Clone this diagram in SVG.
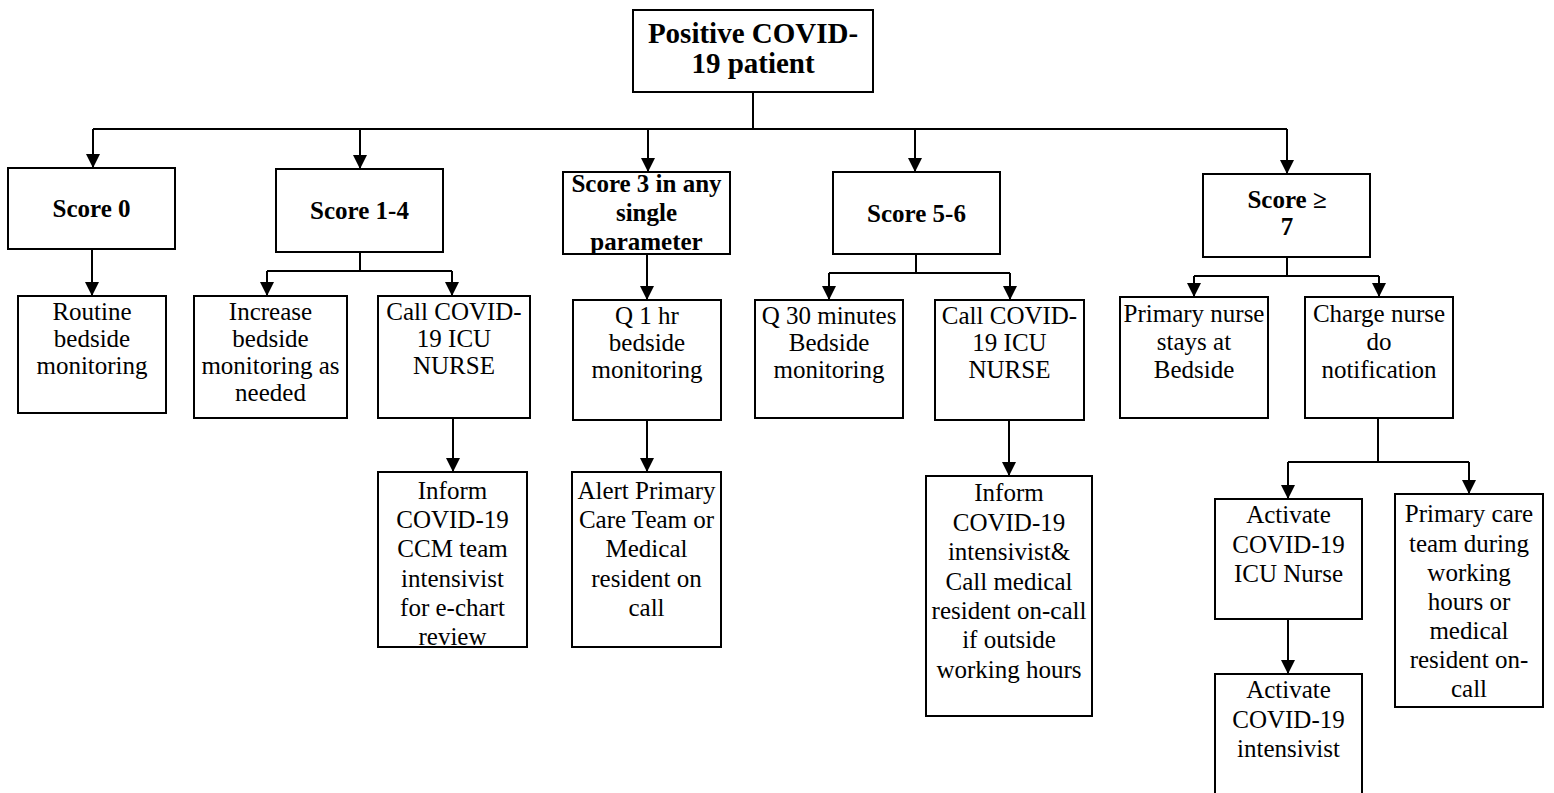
<svg xmlns="http://www.w3.org/2000/svg" width="1554" height="793" viewBox="0 0 1554 793">
<style>
.box{fill:#fff;stroke:#000;stroke-width:2}
.ln{fill:none;stroke:#000;stroke-width:2}
.arr{marker-end:url(#ah)}
text{font-family:'Liberation Serif','Times New Roman','DejaVu Serif',serif;font-size:25px;text-anchor:middle;fill:#000}
.b{font-weight:bold}
</style>
<defs>
<marker id="ah" markerUnits="userSpaceOnUse" markerWidth="14" markerHeight="14" viewBox="0 0 14 14" refX="14" refY="7" orient="auto">
<path d="M0,0 L14,7 L0,14 z" fill="#000"/>
</marker>
</defs>
<rect width="1554" height="793" fill="#fff"/>

<g id="connectors">
<path class="ln" d="M753,92 V129 M93,129 H1287"/>
<path class="ln arr" d="M93,129 V168"/>
<path class="ln arr" d="M360,129 V169"/>
<path class="ln arr" d="M648,129 V172"/>
<path class="ln arr" d="M915,129 V172"/>
<path class="ln arr" d="M1287,129 V174"/>
<path class="ln arr" d="M92,249 V296"/>
<path class="ln" d="M360,252 V271 M267,271 H452"/>
<path class="ln arr" d="M267,271 V296"/>
<path class="ln arr" d="M452,271 V296"/>
<path class="ln arr" d="M647,254 V300"/>
<path class="ln" d="M916,254 V273 M829,273 H1010"/>
<path class="ln arr" d="M829,273 V300"/>
<path class="ln arr" d="M1010,273 V300"/>
<path class="ln" d="M1287,257 V276 M1194,276 H1379"/>
<path class="ln arr" d="M1194,276 V297"/>
<path class="ln arr" d="M1379,276 V297"/>
<path class="ln arr" d="M453,418 V472"/>
<path class="ln arr" d="M647,420 V472"/>
<path class="ln arr" d="M1009,420 V476"/>
<path class="ln" d="M1378,418 V462 M1288,462 H1469"/>
<path class="ln arr" d="M1288,462 V499"/>
<path class="ln arr" d="M1469,462 V494"/>
<path class="ln arr" d="M1288,619 V674"/>
</g>

<g id="n-top">
<rect class="box" x="633" y="10" width="240" height="82"/>
<text class="b" style="font-size:29px"><tspan x="753" y="43">Positive COVID-</tspan><tspan x="753" y="73">19 patient</tspan></text>
</g>

<g id="n-score0">
<rect class="box" x="8" y="168" width="167" height="81"/>
<text class="b"><tspan x="91.5" y="217">Score 0</tspan></text>
</g>

<g id="n-score14">
<rect class="box" x="276" y="169" width="167" height="83"/>
<text class="b"><tspan x="359.5" y="219">Score 1-4</tspan></text>
</g>

<g id="n-score3">
<rect class="box" x="563" y="172" width="167" height="82"/>
<text class="b"><tspan x="646.5" y="192">Score 3 in any</tspan><tspan x="646.5" y="221">single</tspan><tspan x="646.5" y="250">parameter</tspan></text>
</g>

<g id="n-score56">
<rect class="box" x="833" y="172" width="167" height="82"/>
<text class="b"><tspan x="916.5" y="222">Score 5-6</tspan></text>
</g>

<g id="n-score7">
<rect class="box" x="1203" y="174" width="167" height="83"/>
<text class="b"><tspan x="1287" y="208">Score ≥</tspan><tspan x="1287" y="235">7</tspan></text>
</g>

<g id="n-routine">
<rect class="box" x="18" y="296" width="148" height="117"/>
<text><tspan x="92" y="320">Routine</tspan><tspan x="92" y="347">bedside</tspan><tspan x="92" y="374">monitoring</tspan></text>
</g>

<g id="n-increase">
<rect class="box" x="194" y="296" width="153" height="122"/>
<text><tspan x="270.5" y="320">Increase</tspan><tspan x="270.5" y="347">bedside</tspan><tspan x="270.5" y="374">monitoring as</tspan><tspan x="270.5" y="401">needed</tspan></text>
</g>

<g id="n-call14">
<rect class="box" x="378" y="296" width="152" height="122"/>
<text><tspan x="454" y="320">Call COVID-</tspan><tspan x="454" y="347">19 ICU</tspan><tspan x="454" y="374">NURSE</tspan></text>
</g>

<g id="n-q1hr">
<rect class="box" x="573" y="300" width="148" height="120"/>
<text><tspan x="647" y="324">Q 1 hr</tspan><tspan x="647" y="351">bedside</tspan><tspan x="647" y="378">monitoring</tspan></text>
</g>

<g id="n-q30">
<rect class="box" x="755" y="300" width="148" height="118"/>
<text><tspan x="829" y="324">Q 30 minutes</tspan><tspan x="829" y="351">Bedside</tspan><tspan x="829" y="378">monitoring</tspan></text>
</g>

<g id="n-call56">
<rect class="box" x="935" y="300" width="149" height="120"/>
<text><tspan x="1009.5" y="324">Call COVID-</tspan><tspan x="1009.5" y="351">19 ICU</tspan><tspan x="1009.5" y="378">NURSE</tspan></text>
</g>

<g id="n-primarynurse">
<rect class="box" x="1120" y="297" width="148" height="121"/>
<text><tspan x="1194" y="322">Primary nurse</tspan><tspan x="1194" y="350">stays at</tspan><tspan x="1194" y="378">Bedside</tspan></text>
</g>

<g id="n-charge">
<rect class="box" x="1305" y="297" width="148" height="121"/>
<text><tspan x="1379" y="322">Charge nurse</tspan><tspan x="1379" y="350">do</tspan><tspan x="1379" y="378">notification</tspan></text>
</g>

<g id="n-informccm">
<rect class="box" x="378" y="472" width="149" height="175"/>
<text><tspan x="452.5" y="499">Inform</tspan><tspan x="452.5" y="528">COVID-19</tspan><tspan x="452.5" y="557">CCM team</tspan><tspan x="452.5" y="587">intensivist</tspan><tspan x="452.5" y="616">for e-chart</tspan><tspan x="452.5" y="645">review</tspan></text>
<path class="ln" d="M378,647 H527"/>
</g>

<g id="n-alert">
<rect class="box" x="572" y="472" width="149" height="175"/>
<text><tspan x="646.5" y="499">Alert Primary</tspan><tspan x="646.5" y="528">Care Team or</tspan><tspan x="646.5" y="557">Medical</tspan><tspan x="646.5" y="587">resident on</tspan><tspan x="646.5" y="616">call</tspan></text>
</g>

<g id="n-inform56">
<rect class="box" x="926" y="476" width="166" height="240"/>
<text><tspan x="1009" y="501">Inform</tspan><tspan x="1009" y="531">COVID-19</tspan><tspan x="1009" y="560">intensivist&amp;</tspan><tspan x="1009" y="590">Call medical</tspan><tspan x="1009" y="619">resident on-call</tspan><tspan x="1009" y="648">if outside</tspan><tspan x="1009" y="678">working hours</tspan></text>
</g>

<g id="n-activateicu">
<rect class="box" x="1215" y="499" width="147" height="120"/>
<text><tspan x="1288.5" y="523">Activate</tspan><tspan x="1288.5" y="553">COVID-19</tspan><tspan x="1288.5" y="582">ICU Nurse</tspan></text>
</g>

<g id="n-primarycare">
<rect class="box" x="1395" y="494" width="148" height="213"/>
<text><tspan x="1469" y="522">Primary care</tspan><tspan x="1469" y="552">team during</tspan><tspan x="1469" y="581">working</tspan><tspan x="1469" y="610">hours or</tspan><tspan x="1469" y="639">medical</tspan><tspan x="1469" y="668">resident on-</tspan><tspan x="1469" y="697">call</tspan></text>
</g>

<g id="n-activateint">
<rect class="box" x="1215" y="674" width="147" height="130"/>
<text><tspan x="1288.5" y="698">Activate</tspan><tspan x="1288.5" y="728">COVID-19</tspan><tspan x="1288.5" y="757">intensivist</tspan></text>
</g>
</svg>
